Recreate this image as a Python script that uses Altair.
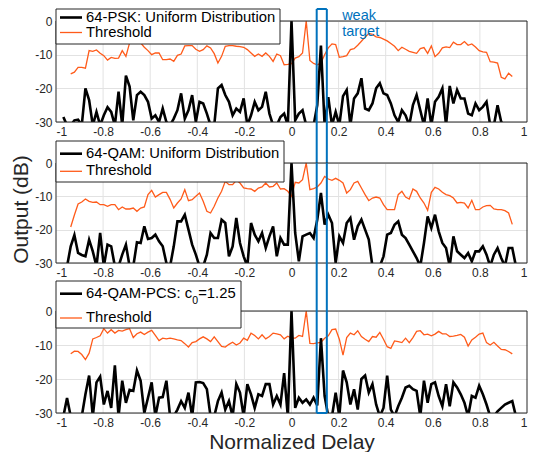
import altair as alt
import pandas as pd

# ---------------- data ----------------
# normalized delay sample grid (1/64 spacing)
X_OUT = [k / 64 for k in range(-62, 63)]   # 125 samples, output traces
X_THR = [k / 64 for k in range(-60, 61)]   # 121 samples, thresholds

PSK_OUT = [
    -28.5, -31, -31, -29.5, -29.3, -31, -20, -23.5, -31, -27,
    -31, -28, -25.6, -27, -31, -21, -31, -16.2, -19.5, -29.5,
    -22, -21, -22, -24, -29, -28, -30, -26, -30, -31,
    -29, -26.5, -21.5, -29, -26.5, -22, -30, -24, -24.5, -27.5,
    -31, -31, -20, -19, -22, -24, -28, -26, -27, -23,
    -31, -28, -24, -26.5, -25.5, -21, -27.5, -31, -31, -28.5,
    -27.5, -31, 0,
    -29.5, -27.5, -26.5, -31, -31, -31, -25, -7.3, -31, -22.6,
    -31, -27, -31, -22.3, -20.5, -31, -23, -21.5, -17, -26,
    -26.5, -24.5, -20, -18.5, -21.5, -22, -24.5, -28, -30, -26.5,
    -28, -31, -25, -22, -26.5, -31, -23, -31, -24, -22.5,
    -20, -31, -19.3, -24.5, -20.5, -23, -23, -27.5, -28, -24.5,
    -26.5, -25.5, -24, -31, -31, -25, -30, -31, -31, -31,
    -31, -31,
]
PSK_THR = [
    -15.7, -15.2, -13.8, -13.8, -14.0, -8.8, -9.0, -8.6, -9.6, -10.3,
    -11.6, -10.8, -11.1, -11.0, -8.8, -10.5, -6.5, -4.0, -5.0, -6.5,
    -7.8, -8.8, -10.0, -9.5, -9.5, -11.5, -11.5, -11.3, -12.0, -10.2,
    -9.8, -7.4, -7.3, -7.3, -8.4, -9.0, -8.5, -7.4, -8.0, -9.7,
    -12.5, -10.5, -7.5, -7.3, -7.3, -7.5, -7.6, -7.8, -8.5, -9.5,
    -10.5, -9.8, -10.5, -9.5, -10.5, -12.0, -9.8, -10.3, -13.0, -12.9,
    -12.7,
    -11.0, -10.6, -9.5, 0, -11.7, -12.6, -13.0, -12.5, -10.0, -8.0,
    -6.8, -7.0, -10.8, -10.6, -10.3, -8.5, -8.2, -7.2, -6.0, -4.8,
    -3.7, -4.0, -4.7, -4.9, -5.4, -5.9, -6.7, -7.5, -8.8, -7.8,
    -8.4, -9.0, -9.3, -9.6, -8.2, -7.9, -9.6, -7.4, -10.6, -9.6,
    -8.0, -7.7, -7.9, -6.3, -7.0, -7.0, -6.1, -7.2, -6.8, -7.7,
    -8.8, -9.2, -9.3, -12.1, -12.2, -12.5, -16.7, -17.2, -15.5, -16.5,
]
QAM_OUT = [
    -31, -31, -25, -21.6, -27, -27.6, -28, -23, -26.5, -31,
    -21, -31, -24.5, -25, -31, -31, -27.5, -24.5, -31, -31,
    -23.8, -24, -19, -22.8, -22.5, -21.5, -23.5, -25, -30, -31,
    -25, -17.5, -17.5, -15.5, -20, -24.5, -27.5, -31, -31, -27.5,
    -21, -22.5, -22.5, -17, -18, -28, -25, -16.5, -24, -28,
    -31, -18, -21.5, -23.5, -21, -25.5, -22, -19, -28, -22.5,
    -24.5, -24.5, 0,
    -21, -29.5, -22, -21.5, -21, -22.5, -17, -9.0, -18.5, -15.5,
    -18, -30, -22, -24, -18, -16.5, -23, -19, -17, -20,
    -23, -31, -31, -31, -28, -21.5, -21, -18.5, -17.5, -21.5,
    -22.5, -24.5, -26.5, -28.5, -31, -24, -16, -19.5, -15.5, -20.5,
    -24, -25.5, -31, -22, -26.5, -27.5, -28.5, -27, -29.5, -26.5,
    -26.5, -25, -27.5, -31, -27.5, -25.5, -28.5, -31, -25.5, -25.5,
    -31, -31,
]
QAM_THR = [
    -19.2, -15.6, -12.3, -11.7, -10.8, -11.5, -11.8, -11.7, -12.5, -12.5,
    -13.0, -12.5, -12.5, -14.0, -13.2, -13.8, -13.8, -13.5, -14.5, -13.5,
    -13.2, -9.5, -8.2, -10.2, -9.5, -8.8, -8.8, -10.9, -13.5, -12.0,
    -10.8, -8.0, -11.3, -11.0, -10.0, -9.0, -11.5, -14.5, -15.0, -13.0,
    -10.5, -8.5, -5.5, -6.5, -6.5, -5.2, -6.0, -7.5, -7.7, -7.8,
    -8.5, -7.5, -7.2, -6.0, -7.2, -7.0, -6.0, -7.8, -7.7, -8.5,
    -10.0,
    -5.8, -6.0, -5.0, 0, -8.0, -7.7, -7.2, -6.0, -4.0, -4.8,
    -5.2, -4.6, -5.2, -6.0, -9.0, -8.0, -6.0, -5.5, -7.5, -9.5,
    -11.3, -10.5, -10.2, -10.5, -12.5, -14.0, -14.0, -14.0, -9.5, -8.5,
    -10.2, -10.8, -7.8, -8.5, -10.5, -12.0, -14.2, -8.8, -7.3, -7.8,
    -8.8, -9.5, -9.8, -10.5, -12.0, -11.8, -12.0, -13.5, -11.2, -14.0,
    -14.0, -13.2, -12.8, -12.7, -13.8, -14.0, -14.0, -14.3, -15.0, -18.4,
]
PCS_OUT = [
    -31, -25.6, -31, -31, -31, -31, -24.5, -19, -31, -21,
    -19.3, -27.5, -23.5, -28.5, -16, -31, -20.5, -27, -23.2, -23.5,
    -17.5, -20.5, -30, -25.5, -21, -31, -25.5, -25.3, -20.5, -31,
    -31, -29, -26.5, -28.5, -24, -31, -21, -20.9, -21.2, -23,
    -31, -31, -26.5, -24, -29, -26.5, -31, -21.5, -24, -31,
    -21.5, -24.5, -28.5, -24.5, -25, -21.5, -21.5, -27.5, -25, -27.5,
    -18.3, -31, 0,
    -28.5, -25.5, -27, -26, -27.5, -25.5, -27.8, -8, -25, -31,
    -31, -24, -31, -17.5, -21, -27.5, -23, -29, -20, -19,
    -24, -21.5, -27.5, -31, -28.5, -19, -29, -31, -28, -25.5,
    -22.5, -22, -23, -23.5, -31, -20.5, -27, -21.5, -21, -25,
    -28, -21.5, -28, -21, -22.5, -24.5, -27, -31, -25, -25.5,
    -22, -24.5, -27.5, -31, -31, -29.5, -28.5, -27.5, -27, -26.5,
    -31, -31,
]
PCS_THR = [
    -12.6, -11.8, -11.9, -12.8, -14.3, -12.4, -8.2, -7.8, -7.3, -5.2,
    -6.5, -5.5, -6.5, -5.7, -5.9, -5.5, -5.2, -7.8, -6.7, -6.2,
    -6.9, -6.2, -5.7, -7.2, -8.7, -8.0, -8.2, -8.0, -8.2, -8.5,
    -8.7, -9.6, -10.6, -9.3, -9.0, -8.2, -7.6, -8.2, -9.0, -7.6,
    -9.0, -10.4, -10.6, -9.8, -9.2, -10.0, -9.4, -8.0, -8.6, -6.5,
    -7.2, -8.2, -7.0, -8.2, -7.5, -6.5, -6.7, -7.0, -8.2, -7.4,
    -8.0,
    -8.0, -7.2, -7.5, 0, -9.5, -9.6, -9.4, -9.2, -8.0, -7.3,
    -5.5, -5.3, -8.3, -13.0, -7.8, -6.5, -7.0, -5.8, -7.5, -8.3,
    -9.0, -7.5, -7.7, -6.3, -8.3, -10.5, -11.0, -8.8, -9.0, -9.3,
    -8.0, -9.3, -7.8, -6.0, -5.8, -7.0, -6.8, -7.3, -6.8, -6.0,
    -6.7, -6.7, -7.5, -7.4, -7.2, -6.9, -7.7, -10.3, -8.5, -7.7,
    -6.8, -6.5, -9.3, -10.0, -9.2, -10.3, -11.3, -11.4, -11.9, -12.6,
]

X_TICKS = [-1, -0.8, -0.6, -0.4, -0.2, 0, 0.2, 0.4, 0.6, 0.8, 1]
X_GRID = [-0.8, -0.6, -0.4, -0.2, 0, 0.2, 0.4, 0.6, 0.8]
Y_TICKS = [-30, -20, -10, 0]
TARGET = [0.107, 0.15]
TARGET_TEXT_X = 0.215
TARGET_TEXT = ["weak", "target"]
LEGEND_1 = ["64-PSK: Uniform Distribution", "Threshold"]
LEGEND_2 = ["64-QAM: Uniform Distribution", "Threshold"]
LEGEND_3 = ["64-QAM-PCS: c", "0", "=1.25", "Threshold"]

# ---------------- style ----------------
FONT = "Liberation Sans"
AX = "#262626"
GRID = "#e2e2e2"
ORANGE = "#FF5B1A"
BLUE = "#0072BD"
W = 471
GAP = 41
LBL = "datum.value < 0 ? '-' + format(-datum.value, '~g') : format(datum.value, '~g')"


def one(**cols):
    return pd.DataFrame({k: [v] for k, v in cols.items()})


def panel(out, thr, h, top, box, rows, texts, blue_top, blue_bot,
          ytitle=False, xtitle=False, blue_cap_top=False, blue_cap_bot=False,
          annot=False):
    xs = alt.Scale(domain=[-1, 1], nice=False, zero=False, padding=0)
    ys = alt.Scale(domain=[-30, 0], nice=False, zero=False, range=[h, top])
    xkw = dict(values=X_TICKS, labelExpr=LBL, grid=False, ticks=False, tickSize=0,
               domain=False, labelFont=FONT, labelFontSize=12, labelColor=AX,
               labelPadding=4, minExtent=0)
    if xtitle:
        xkw.update(titleFont=FONT, titleFontSize=21, titleFontWeight="normal",
                   titleColor=AX, titlePadding=3)
    ykw = dict(values=Y_TICKS, labelExpr=LBL, grid=True, gridColor=GRID, gridWidth=1,
               ticks=False, tickSize=0, domain=False, labelFont=FONT, labelFontSize=12,
               labelColor=AX, labelPadding=4, minExtent=0)
    if ytitle:
        ykw.update(titleFont=FONT, titleFontSize=21, titleFontWeight="normal",
                   titleColor=AX, titlePadding=3.5, titleY=46)
    xax = alt.Axis(**xkw)
    yax = alt.Axis(**ykw)
    xt = "Normalized Delay" if xtitle else None
    yt = "Output (dB)" if ytitle else None

    def X(f):
        return alt.X(f, type="quantitative", scale=xs, axis=xax, title=xt)

    def Y(f):
        return alt.Y(f, type="quantitative", scale=ys, axis=yax, title=yt)

    grid = alt.Chart(pd.DataFrame({"t": X_GRID})).mark_rule(
        color=GRID, strokeWidth=1).encode(x=X("t"), y=alt.value(top), y2=alt.value(h))
    thr_line = alt.Chart(pd.DataFrame({"x": X_THR, "y": thr})).mark_line(
        color=ORANGE, strokeWidth=1.3).encode(x=X("x"), y=Y("y"))
    out_line = alt.Chart(pd.DataFrame({"x": X_OUT, "y": out})).mark_line(
        color="black", strokeWidth=2.6, clip=True, strokeJoin="miter").encode(x=X("x"), y=Y("y"))
    frame = alt.Chart(one(x0=-1, x1=1, y0=-30, y1=0)).mark_rect(
        fillOpacity=0, stroke=AX, strokeWidth=1).encode(
        x=X("x0"), x2="x1:Q", y=Y("y0"), y2="y1:Q")

    layers = [grid, thr_line, out_line, frame]

    # legend box
    bx0, bx1, by0, by1 = box
    layers.append(alt.Chart(one(a=0)).mark_rect(
        fill="white", stroke=AX, strokeWidth=1).encode(
        x=alt.value(bx0), x2=alt.value(bx1), y=alt.value(by0), y2=alt.value(by1)))
    r_out, r_thr = rows
    layers.append(alt.Chart(one(a=0)).mark_rule(color="black", strokeWidth=2.6).encode(
        x=alt.value(4), x2=alt.value(26), y=alt.value(r_out)))
    layers.append(alt.Chart(one(a=0)).mark_rule(color=ORANGE, strokeWidth=1.3).encode(
        x=alt.value(4), x2=alt.value(26), y=alt.value(r_thr)))
    for (label, tx, ty, fs) in texts:
        layers.append(alt.Chart(one(label=label)).mark_text(
            align="left", baseline="middle", font=FONT, fontSize=fs, color="black").encode(
            x=alt.value(tx), y=alt.value(ty), text="label:N"))

    # weak target box
    tdf = one(x0=TARGET[0], x1=TARGET[1])
    layers.append(alt.Chart(tdf).mark_rule(color=BLUE, strokeWidth=2).encode(
        x=X("x0"), y=alt.value(blue_top), y2=alt.value(blue_bot)))
    layers.append(alt.Chart(tdf).mark_rule(color=BLUE, strokeWidth=2).encode(
        x=X("x1"), y=alt.value(blue_top), y2=alt.value(blue_bot)))
    if blue_cap_top:
        layers.append(alt.Chart(tdf).mark_rule(color=BLUE, strokeWidth=2).encode(
            x=X("x0"), x2="x1:Q", y=alt.value(blue_top)))
    if blue_cap_bot:
        layers.append(alt.Chart(tdf).mark_rule(color=BLUE, strokeWidth=2).encode(
            x=X("x0"), x2="x1:Q", y=alt.value(blue_bot)))
    if annot:
        for lab, ty in zip(TARGET_TEXT, [-1, 15]):
            layers.append(alt.Chart(one(label=lab, tx=TARGET_TEXT_X)).mark_text(
                align="left", baseline="alphabetic", font=FONT, fontSize=14.5,
                color=BLUE).encode(x=X("tx"), y=alt.value(ty), text="label:N"))

    return alt.layer(*layers).properties(width=W, height=h)


FS = 14.8
p1 = panel(PSK_OUT, PSK_THR, 101, 0, (0, 224, -12, 23), (-3.5, 11.5),
           [(LEGEND_1[0], 30, -3.5, FS), (LEGEND_1[1], 30, 11.5, FS)],
           -12, 101 + GAP, blue_cap_top=True, annot=True)
p2 = panel(QAM_OUT, QAM_THR, 100, 0, (0, 228, -22, 19), (-9.3, 8.3),
           [(LEGEND_2[0], 30, -9.3, FS), (LEGEND_2[1], 30, 8.3, FS)],
           0, 100 + GAP, ytitle=True)
p3 = panel(PCS_OUT, PCS_THR, 109, 7, (0, 185, -23, 24), (-10.3, 14),
           [(LEGEND_3[0], 30, -10.3, FS), (LEGEND_3[1], 136.2, -3.5, 10.5),
            (LEGEND_3[2], 142.2, -10.3, FS), (LEGEND_3[3], 30, 14, FS)],
           0, 109, xtitle=True, blue_cap_bot=True)

chart = alt.vconcat(p1, p2, p3, spacing=GAP, bounds="flush").properties(
    padding={"left": 2, "top": 0, "right": 0, "bottom": 0}
).configure_view(stroke=None)

chart.save("out.html", embed_options={"renderer": "svg", "actions": False})
